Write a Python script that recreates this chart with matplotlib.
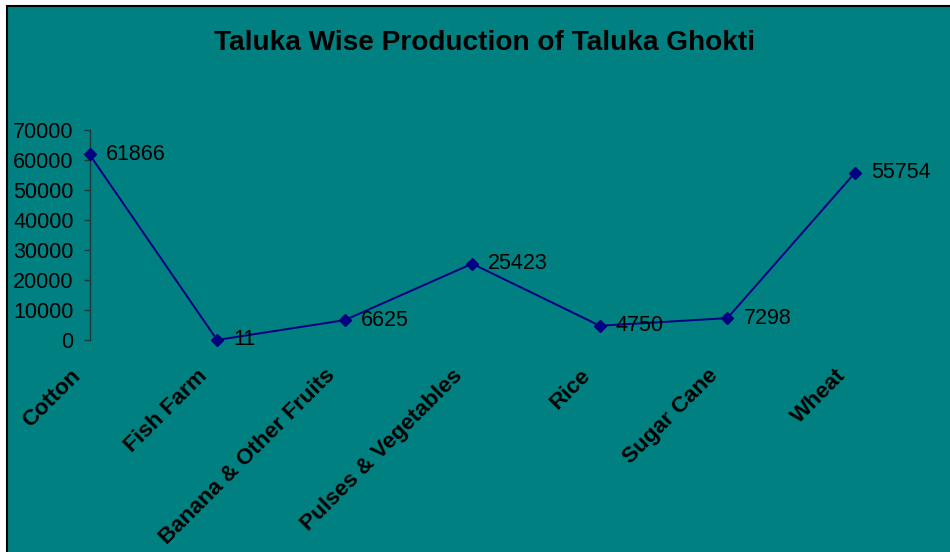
import matplotlib.pyplot as plt
from matplotlib.patches import Rectangle

plt.rcParams['font.family'] = ['Liberation Sans', 'DejaVu Sans']

TEAL = '#008080'
NAVY = '#000080'

crops = ['Cotton', 'Fish Farm', 'Banana & Other Fruits', 'Pulses & Vegetables',
         'Rice', 'Sugar Cane', 'Wheat']
production = [61866, 11, 6625, 25423, 4750, 7298, 55754]
yticks = [0, 10000, 20000, 30000, 40000, 50000, 60000, 70000]

W, H = 950, 552
fig = plt.figure(figsize=(W / 100, H / 100), dpi=100)
fig.patch.set_facecolor('white')

# chart area with black border (runs off the right and bottom edges)
fig.patches.append(Rectangle((7 / W, -0.05), 1.1, 1 - 6 / H + 0.05,
                             transform=fig.transFigure, facecolor=TEAL,
                             edgecolor='black', linewidth=1.5, zorder=-10))

ax = fig.add_axes([89.5 / W, 1 - 340 / H, (855 - 89.5) / W, (340 - 130) / H])
ax.set_facecolor('none')

x = list(range(len(crops)))
ax.plot(x, production, color=NAVY, linewidth=1.4, marker='D', markersize=6.5,
        markerfacecolor=NAVY, markeredgecolor=NAVY, clip_on=False, zorder=3)

# data labels
for xi, v in zip(x, production):
    ax.annotate(str(v), (xi, v), xytext=(11.5, 0), textcoords='offset points',
                ha='left', va='center', fontsize=15.5, color='black')

ax.set_xlim(0, len(crops) - 1)
ax.set_ylim(0, 70000)
ax.set_yticks(yticks)
ax.set_yticklabels([str(t) for t in yticks], fontsize=15.5)
ax.tick_params(axis='y', direction='out', length=4.5, width=1, color='#203838', pad=7)

# category labels, rotated
ax.set_xticks(x)
ax.set_xticklabels([''] * len(crops))
ax.tick_params(axis='x', length=0)
for xi, name in zip(x, crops):
    ax.annotate(name, (xi, 0), xycoords=('data', 'axes fraction'),
                xytext=(-9, -23.5), textcoords='offset points',
                rotation=45, rotation_mode='anchor', ha='right', va='center',
                fontsize=16.2, fontweight='bold', color='black')

for side in ['top', 'right', 'bottom']:
    ax.spines[side].set_visible(False)
ax.spines['left'].set_color('#203838')
ax.spines['left'].set_linewidth(1)

fig.text(485 / W, 1 - 43.5 / H, 'Taluka Wise Production of Taluka Ghokti',
         ha='center', va='center', fontsize=20.2, fontweight='bold')

fig.savefig('out.png', dpi=100)
